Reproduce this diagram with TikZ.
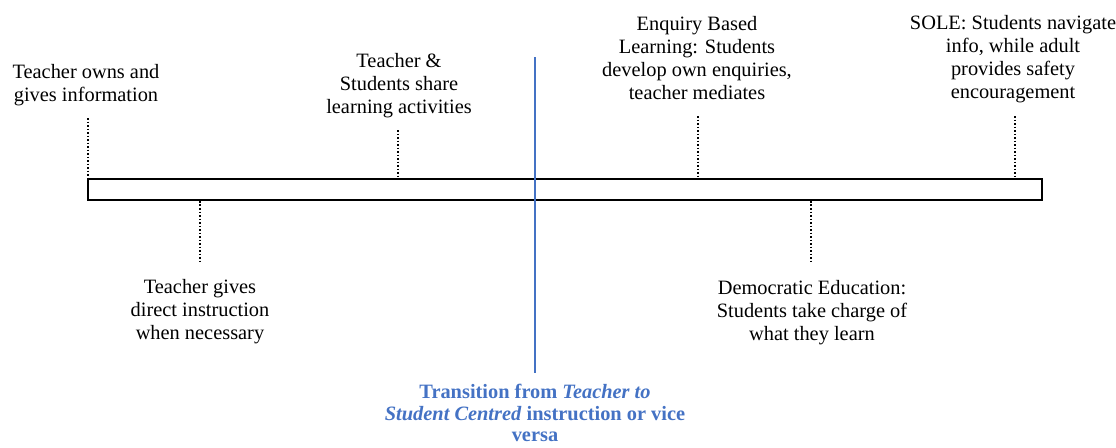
\documentclass[tikz,border=0pt]{standalone}
\usepackage{fontspec}
\setmainfont{Liberation Serif}
\usetikzlibrary{positioning}
\definecolor{transblue}{RGB}{68,114,196}
\tikzset{
  stage/.style={align=center, inner sep=0pt, font=\fontsize{11.6}{13.1}\selectfont},
  tick/.style={line width=1pt, dash pattern=on 1pt off 1pt},
}

\begin{document}
\begin{tikzpicture}[x=0.02cm, y=-0.02cm]
		\useasboundingbox (0,0) rectangle (1116,447);
		% the bar
		\node[draw, line width=1.1pt, inner sep=0pt, minimum width=19.08cm, minimum height=0.42cm] (bar) at (565,189.5) {};
		
		% stages above the bar
		\node[stage] (owns) at (86,85) {Teacher owns and\\gives information};
		\node[stage] (share) at (399,86) {Teacher \&\\Students share\\learning activities};
		\node[stage] (enquiry) at (697,58) {Enquiry Based\\Learning: Students\\develop own enquiries,\\teacher mediates};
		\node[stage] (sole) at (1013,59) {SOLE: Students navigate\\info, while adult\\provides safety\\encouragement};
		
		% stages below the bar
		\node[stage] (direct) at (200,312) {Teacher gives\\direct instruction\\when necessary};
		\node[stage] (demo) at (812,313) {Democratic Education:\\Students take charge of\\what they learn};
		
		% dotted ticks
		\coordinate (t1) at (88,118);
		\coordinate (t2) at (398,130);
		\coordinate (t3) at (698,116);
		\coordinate (t4) at (1015,116);
		\coordinate (b1) at (200,264);
		\coordinate (b2) at (811,264);
		\foreach \t in {t1,t2,t3,t4}
			\draw[tick] (\t) -- (\t |- bar.north);
		\foreach \b in {b1,b2}
			\draw[tick] (\b |- bar.south) -- (\b);
		
		% transition
		\coordinate (vtop) at (535,57);
		\coordinate (vbot) at (535,373);
		\draw[transblue, line width=1.2pt] (vtop) -- (vbot);
		\node[stage, font=\fontsize{11.6}{12.4}\selectfont\bfseries, text=transblue] (trans) at (535,413) {Transition from \textit{Teacher to}\\\textit{Student Centred} instruction or vice\\versa};
\end{tikzpicture}
\end{document}
